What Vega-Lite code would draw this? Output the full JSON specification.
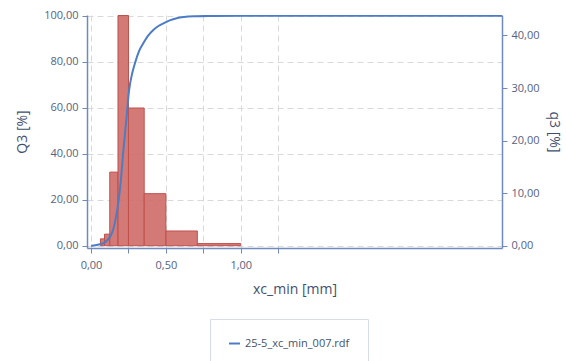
{
  "$schema": "https://vega.github.io/schema/vega-lite/v6.json",
  "width": 415,
  "height": 233,
  "autosize": "none",
  "padding": {"left": 87, "top": 15, "right": 64, "bottom": 113},
  "background": "white",
  "config": {
    "view": {"stroke": null},
    "font": "Open Sans",
    "axis": {
      "labelFont": "Open Sans",
      "titleFont": "Open Sans",
      "labelFontSize": 11,
      "labelColor": "#55627f",
      "titleColor": "#3f4f70",
      "titleFontSize": 14,
      "titleFontWeight": "normal",
      "domainColor": "#6f8bbd",
      "domainWidth": 1.5,
      "tickColor": "#6f8bbd",
      "gridColor": "#d9d9d9",
      "gridDash": [6, 4]
    }
  },
  "datasets": {
    "bars": [
      {"lo": 0.063, "hi": 0.09, "q3": 1.3},
      {"lo": 0.09, "hi": 0.125, "q3": 2.2},
      {"lo": 0.125, "hi": 0.18, "q3": 14.0},
      {"lo": 0.18, "hi": 0.25, "q3": 43.8},
      {"lo": 0.25, "hi": 0.355, "q3": 26.2},
      {"lo": 0.355, "hi": 0.5, "q3": 9.9},
      {"lo": 0.5, "hi": 0.71, "q3": 2.8},
      {"lo": 0.71, "hi": 1.0, "q3": 0.4}
    ],
    "curve": [
      {"x": 0.0, "Q3": 0.0, "s": "25-5_xc_min_007.rdf"},
      {"x": 0.03, "Q3": 0.2, "s": "25-5_xc_min_007.rdf"},
      {"x": 0.05, "Q3": 0.5, "s": "25-5_xc_min_007.rdf"},
      {"x": 0.08, "Q3": 1.0, "s": "25-5_xc_min_007.rdf"},
      {"x": 0.11, "Q3": 2.5, "s": "25-5_xc_min_007.rdf"},
      {"x": 0.13, "Q3": 4.2, "s": "25-5_xc_min_007.rdf"},
      {"x": 0.147, "Q3": 6.8, "s": "25-5_xc_min_007.rdf"},
      {"x": 0.165, "Q3": 12.0, "s": "25-5_xc_min_007.rdf"},
      {"x": 0.185, "Q3": 20.0, "s": "25-5_xc_min_007.rdf"},
      {"x": 0.2, "Q3": 29.0, "s": "25-5_xc_min_007.rdf"},
      {"x": 0.214, "Q3": 40.0, "s": "25-5_xc_min_007.rdf"},
      {"x": 0.236, "Q3": 55.0, "s": "25-5_xc_min_007.rdf"},
      {"x": 0.254, "Q3": 67.5, "s": "25-5_xc_min_007.rdf"},
      {"x": 0.275, "Q3": 75.0, "s": "25-5_xc_min_007.rdf"},
      {"x": 0.294, "Q3": 79.5, "s": "25-5_xc_min_007.rdf"},
      {"x": 0.32, "Q3": 84.5, "s": "25-5_xc_min_007.rdf"},
      {"x": 0.349, "Q3": 88.0, "s": "25-5_xc_min_007.rdf"},
      {"x": 0.38, "Q3": 91.2, "s": "25-5_xc_min_007.rdf"},
      {"x": 0.416, "Q3": 93.8, "s": "25-5_xc_min_007.rdf"},
      {"x": 0.45, "Q3": 95.5, "s": "25-5_xc_min_007.rdf"},
      {"x": 0.494, "Q3": 97.0, "s": "25-5_xc_min_007.rdf"},
      {"x": 0.53, "Q3": 98.1, "s": "25-5_xc_min_007.rdf"},
      {"x": 0.572, "Q3": 98.9, "s": "25-5_xc_min_007.rdf"},
      {"x": 0.62, "Q3": 99.4, "s": "25-5_xc_min_007.rdf"},
      {"x": 0.7, "Q3": 99.75, "s": "25-5_xc_min_007.rdf"},
      {"x": 0.8, "Q3": 99.9, "s": "25-5_xc_min_007.rdf"},
      {"x": 1.0, "Q3": 100.0, "s": "25-5_xc_min_007.rdf"},
      {"x": 2.745, "Q3": 100.0, "s": "25-5_xc_min_007.rdf"}
    ]
  },
  "layer": [
    {
      "data": {"name": "bars"},
      "mark": {"type": "bar", "fill": "#cf6f6a", "fillOpacity": 0.92, "stroke": "#c0504d", "strokeWidth": 1, "clip": true},
      "encoding": {
        "x": {
          "field": "lo", "type": "quantitative",
          "scale": {"domain": [-0.027, 2.745], "nice": false, "zero": false},
          "axis": {
            "title": "xc_min [mm]",
            "values": [0, 0.25, 0.5, 0.75, 1, 1.25],
            "labelExpr": "(datum.value == 0 || datum.value == 0.5 || datum.value == 1) ? replace(format(datum.value, '.2f'), '.', ',') : ''",
            "grid": true,
            "tickSize": 5,
            "labelPadding": 6,
            "titlePadding": 12
          }
        },
        "x2": {"field": "hi"},
        "y": {
          "field": "q3", "type": "quantitative",
          "scale": {"domain": [-0.44, 43.9], "nice": false, "zero": false},
          "axis": {
            "orient": "right",
            "title": "q3 [%]",
            "values": [0, 10, 20, 30, 40],
            "labelExpr": "replace(format(datum.value, '.2f'), '.', ',')",
            "grid": false,
            "tickSize": 5,
            "labelPadding": 4,
            "titlePadding": 7
          }
        },
        "y2": {"datum": 0}
      }
    },
    {
      "data": {"name": "curve"},
      "mark": {"type": "line", "strokeWidth": 2, "interpolate": "monotone", "clip": true},
      "encoding": {
        "x": {"field": "x", "type": "quantitative"},
        "y": {
          "field": "Q3", "type": "quantitative",
          "scale": {"domain": [-1, 100.3], "nice": false, "zero": false},
          "axis": {
            "orient": "left",
            "title": "Q3 [%]",
            "values": [0, 20, 40, 60, 80, 100],
            "labelExpr": "replace(format(datum.value, '.2f'), '.', ',')",
            "grid": true,
            "tickSize": 5,
            "labelPadding": 4,
            "titlePadding": 14
          }
        },
        "color": {
          "field": "s", "type": "nominal",
          "scale": {"range": ["#4c7cc4"]},
          "legend": {
            "title": null,
            "orient": "none",
            "legendX": 123,
            "legendY": 304,
            "direction": "vertical",
            "symbolType": "stroke",
            "symbolStrokeWidth": 2,
            "symbolSize": 120,
            "labelFontSize": 11,
            "labelColor": "#44526e",
            "labelFont": "Open Sans",
            "strokeColor": "#d6dde9",
            "fillColor": "white",
            "padding": 18,
            "labelOffset": 4
          }
        }
      }
    }
  ],
  "resolve": {"scale": {"y": "independent"}}
}
